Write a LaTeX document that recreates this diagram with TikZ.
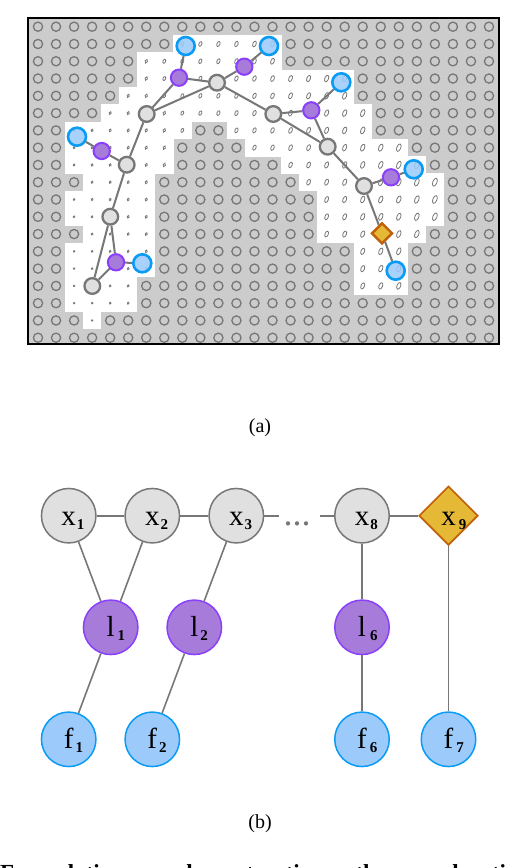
\documentclass[tikz,border=0pt]{standalone}
\usepackage{fontspec}
\setmainfont{Liberation Serif}
\usetikzlibrary{shapes.geometric}

\newcommand{\varlabel}[3][1pt]{{\fontsize{29}{29}\selectfont #2}\rlap{\hspace{#1}\fontsize{15}{15}\selectfont\bfseries\raisebox{-4pt}{#3}}}

\definecolor{gridgray}{HTML}{CCCCCC}
\definecolor{ringgray}{HTML}{777777}
\definecolor{posefill}{HTML}{E0E0E0}
\definecolor{lmfill}{HTML}{A67BD9}
\definecolor{lmline}{HTML}{8A3FFC}
\definecolor{ffill}{HTML}{9CCBFB}
\definecolor{fline}{HTML}{0A9BF5}
\definecolor{goalfill}{HTML}{E5B935}
\definecolor{goalline}{HTML}{C0600A}

\tikzset{
    link/.style={draw=ringgray,line width=2pt},
    linkb/.style={draw=ringgray,line width=1.6pt},
    % small markers of the map
    posea/.style={circle,draw=ringgray,fill=posefill,line width=2.3pt,minimum size=15.7pt,inner sep=0pt},
    lma/.style={circle,draw=lmline,fill=lmfill,line width=2pt,minimum size=16.3pt,inner sep=0pt},
    fa/.style={circle,draw=fline,fill=ffill,fill opacity=0.88,line width=2.6pt,minimum size=18pt,inner sep=0pt},
    goala/.style={diamond,aspect=1,draw=goalline,fill=goalfill,line width=2.4pt,minimum size=21pt,inner sep=0pt},
    % large markers of the graph
    bigtext/.style={inner sep=0pt,text height=18.6pt,text depth=0pt},
    poseb/.style={circle,draw=ringgray,fill=posefill,line width=1.5pt,minimum size=54.5pt,bigtext},
    lmb/.style={circle,draw=lmline,fill=lmfill,line width=1.5pt,minimum size=54.5pt,bigtext},
    fb/.style={circle,draw=fline,fill=ffill,line width=1.5pt,minimum size=54.5pt,bigtext},
    goalb/.style={diamond,aspect=1,draw=goalline,fill=goalfill,line width=1.6pt,minimum size=59pt,bigtext}
}

\begin{document}
\begin{tikzpicture}[x=1pt,y=-1pt]
    \useasboundingbox (0,0) rectangle (532,868);

    % Occupied cells
    \fill[gridgray] (28,18) rectangle (499,344);
    \foreach \jrow in {0,...,18}
        \foreach \icol in {0,...,25}
            \draw[ringgray,line width=1.3pt] ({38+18.04*\icol},{26.7+17.28*\jrow}) circle (4.6pt);

    % Free cells with their variances
    \foreach \jrow/\cola/\colb in {1/8/13,2/6/13,3/6/17,4/5/17,5/4/18,6/2/8,6/11/18,7/2/7,7/12/20,8/2/7,8/14/21,
        9/3/6,9/15/22,10/2/6,10/16/22,11/2/6,11/16/22,12/3/6,12/16/21,13/2/6,13/18/20,14/2/6,14/18/20,
        15/2/5,15/18/20,16/2/5,17/3/3} {
        \fill[white] ({29+18.04*\cola-0.2},{18.06+17.28*\jrow-0.2}) rectangle ({29+18.04*(\colb+1)+0.2},{18.06+17.28*(\jrow+1)+0.2});
        \foreach \icol in {\cola,...,\colb} {
            \pgfmathsetmacro{\ry}{max(0.7,0.6+0.16*\icol+0.05*(10-\jrow))}
            \pgfmathsetmacro{\rx}{0.5+0.38*\ry}
            \draw[ringgray,line width=0.8pt] ({38+18.04*\icol},{26.7+17.28*\jrow}) ellipse [x radius=\rx pt,y radius=\ry pt,rotate=-22];
        }
    }
    \draw[black,line width=1.2pt] (28,18) rectangle (499,344);

    % Poses
    \node[posea] (g1) at (146.7,114) {};
    \node[posea] (g2) at (217,82.7) {};
    \node[posea] (g3) at (126.7,164.7) {};
    \node[posea] (g4) at (273.3,114) {};
    \node[posea] (g5) at (327.7,146.7) {};
    \node[posea] (g6) at (364,186) {};
    \node[posea] (g7) at (110.3,216.7) {};
    \node[posea] (g8) at (92.3,286) {};

    % Landmarks
    \node[lma] (p1) at (179,77.7) {};
    \node[lma] (p2) at (244.3,66.7) {};
    \node[lma] (p3) at (101.7,151) {};
    \node[lma] (p4) at (311.3,110.3) {};
    \node[lma] (p5) at (391,177.3) {};
    \node[lma] (p6) at (116,262.3) {};

    % Features
    \node[fa] (b1) at (185.7,46) {};
    \node[fa] (b2) at (269,46) {};
    \node[fa] (b3) at (77,136.7) {};
    \node[fa] (b4) at (341.3,82.3) {};
    \node[fa] (b5) at (413.7,169.3) {};
    \node[fa] (b6) at (142.3,263.3) {};
    \node[fa] (b7) at (395.7,270.7) {};
    \node[goala] (d) at (382,233.3) {};

    \foreach \from/\to in {g8/g7,g7/g3,g3/g1,g1/g2,g1/p1,p1/g2,p1/b1,g2/p2,p2/b2,g2/g4,g4/p4,p4/b4,p4/g5,g4/g5,
        g5/g6,g6/p5,p5/b5,g6/d,d/b7,g3/p3,p3/b3,g7/p6,p6/b6,g8/p6}
        \draw[link] (\from) -- (\to);

    \node (capa) at (260,428) {\fontsize{20}{20}\selectfont (a)};

    % Graph
    \node[poseb] (x1) at (68.7,515.7) {\varlabel{x}{1}};
    \node[poseb] (x2) at (152.3,515.7) {\varlabel{x}{2}};
    \node[poseb] (x3) at (236.3,515.7) {\varlabel{x}{3}};
    \node[poseb] (x8) at (362,515.7) {\varlabel{x}{8}};
    \node[goalb] (x9) at (448.5,515.7) {\varlabel[3pt]{x}{9}};
    \node[lmb] (l1) at (110.7,627.3) {\varlabel[3pt]{l}{1}};
    \node[lmb] (l2) at (194.3,627.3) {\varlabel[2pt]{l}{2}};
    \node[lmb] (l6) at (362,627.3) {\varlabel[4pt]{l}{6}};
    \node[fb] (f1) at (68.7,739.3) {\varlabel[2pt]{f}{1}};
    \node[fb] (f2) at (152.3,739.3) {\varlabel[2pt]{f}{2}};
    \node[fb] (f6) at (362,739.3) {\varlabel[3pt]{f}{6}};
    \node[fb] (f7) at (448.5,739.3) {\varlabel[3pt]{f}{7}};

    \coordinate (gapl) at (279,515.7);
    \coordinate (gapr) at (320,515.7);
    \node[ringgray,anchor=base] (gapdots) at (297,525.5) {\fontsize{36}{36}\selectfont ...};

    \foreach \from/\to in {x1/x2,x2/x3,x3/gapl,gapr/x8,x8/x9,x1/l1,x2/l1,x3/l2,x8/l6,x9/f7,l1/f1,l2/f2,l6/f6}
        \draw[linkb] (\from) -- (\to);

    \node (capb) at (260,824) {\fontsize{20}{20}\selectfont (b)};

    % Caption, cut by the page
    \node[anchor=base west,inner sep=0pt] (captext) at (0,880) {\fontsize{23}{23}\selectfont\bfseries\makebox[530pt][s]{Formulation and extracting the exploration}};
\end{tikzpicture}
\end{document}
